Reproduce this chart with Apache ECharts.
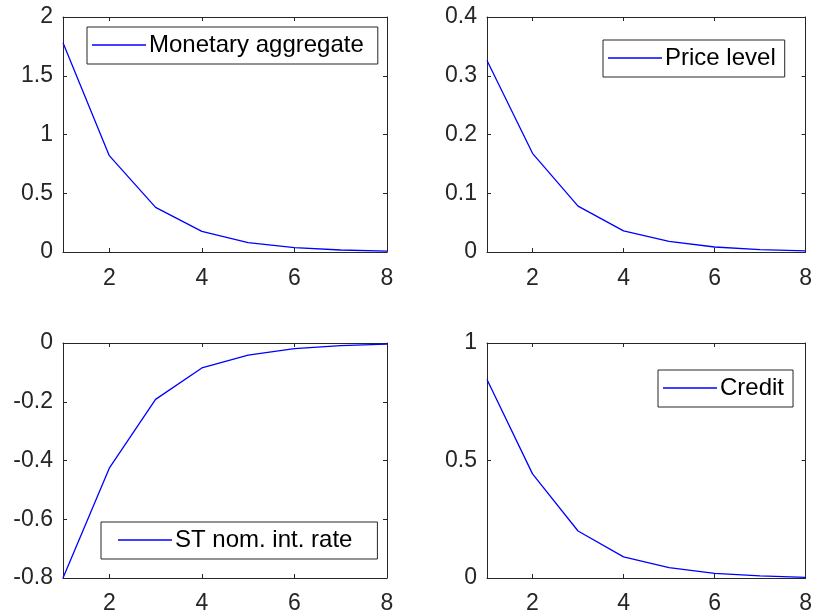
<!DOCTYPE html>
<html>
<head>
<meta charset="utf-8">
<script src="https://cdn.jsdelivr.net/npm/echarts@6/dist/echarts.min.js"></script>
<style>
  html, body { margin: 0; padding: 0; background: #ffffff; }
  #chart { width: 815px; height: 615px; }
</style>
</head>
<body>
<div id="chart"></div>
<script>
// Impulse responses over 8 periods
const periods = [1, 2, 3, 4, 5, 6, 7, 8];
const xTicks = [2, 4, 6, 8];

const monetaryAggregate = [1.78, 0.82, 0.38, 0.175, 0.08, 0.037, 0.017, 0.008];
const priceLevel = [0.326, 0.168, 0.078, 0.036, 0.018, 0.0085, 0.004, 0.002];
const stNomIntRate = [-0.8, -0.426, -0.192, -0.085, -0.041, -0.019, -0.009, -0.004];
const credit = [0.845, 0.443, 0.2, 0.09, 0.044, 0.02, 0.009, 0.003];

const seriesNames = ['Monetary aggregate', 'Price level', 'ST nom. int. rate', 'Credit'];
const seriesValues = [monetaryAggregate, priceLevel, stNomIntRate, credit];

// y-axis ranges per panel
const yMins = [0, 0, -0.8, 0];
const yMaxs = [2, 0.4, 0, 1];
const yIntervals = [0.5, 0.1, 0.2, 0.5];

// panel layout: plot rectangles, legend box corners and inner padding
const panels = [
  { left: 63, top: 17, width: 324, height: 235, xMargin: 15, legend: { left: 87, top: 27, padLeft: 5, padRight: 14 } },
  { left: 487, top: 17, width: 321, height: 235, xMargin: 15, legend: { left: 603, top: 40, padLeft: 5, padRight: 9 } },
  { left: 63, top: 343, width: 324, height: 235, xMargin: 14, legend: { left: 101, top: 522, padLeft: 17, padRight: 25 } },
  { left: 487, top: 343, width: 321, height: 235, xMargin: 14, legend: { left: 658, top: 370, padLeft: 5, padRight: 9 } }
];

const AX = '#262626';
const FONT = 'Liberation Sans, Arial, Helvetica, sans-serif';
const FS = 23;
const LEGEND_FS = 24;

const grid = [], xAxis = [], yAxis = [], series = [], legend = [];

panels.forEach((p, i) => {
  grid.push({ left: p.left, top: p.top, width: p.width, height: p.height, containLabel: false });

  const xBase = {
    type: 'value', gridIndex: i, min: 1, max: 8,
    splitLine: { show: false },
    axisLine: { show: true, onZero: false, lineStyle: { color: AX, width: 1 } },
    axisTick: { show: true, inside: true, length: 4, customValues: xTicks, lineStyle: { color: AX } }
  };
  xAxis.push(Object.assign({}, xBase, {
    position: 'bottom',
    axisLabel: { show: true, customValues: xTicks, color: AX, fontSize: FS, fontFamily: FONT, margin: p.xMargin }
  }));
  xAxis.push(Object.assign({}, xBase, {
    position: 'top',
    axisLabel: { show: false }
  }));

  const yBase = {
    type: 'value', gridIndex: i, min: yMins[i], max: yMaxs[i], interval: yIntervals[i],
    splitLine: { show: false },
    axisLine: { show: true, onZero: false, lineStyle: { color: AX, width: 1 } },
    axisTick: { show: true, inside: true, length: 4, lineStyle: { color: AX } }
  };
  yAxis.push(Object.assign({}, yBase, {
    position: 'left',
    axisLabel: { show: true, color: AX, fontSize: FS, fontFamily: FONT, margin: 10, padding: [2, 0, 0, 0] }
  }));
  yAxis.push(Object.assign({}, yBase, {
    position: 'right',
    axisLabel: { show: false }
  }));

  series.push({
    name: seriesNames[i],
    type: 'line',
    xAxisIndex: i * 2,
    yAxisIndex: i * 2,
    data: periods.map((x, k) => [x, seriesValues[i][k]]),
    symbol: 'none',
    lineStyle: { color: '#0000ff', width: 1.3 },
    itemStyle: { color: '#0000ff' },
    animation: false
  });

  legend.push({
    data: [{ name: seriesNames[i], icon: 'rect' }],
    left: p.legend.left,
    top: p.legend.top,
    orient: 'vertical',
    backgroundColor: '#ffffff',
    borderColor: AX,
    borderWidth: 1,
    borderRadius: 0,
    padding: [6, p.legend.padRight, 7, p.legend.padLeft],
    itemWidth: 54,
    itemHeight: 1.5,
    itemGap: 0,
    selectedMode: false,
    itemStyle: { color: '#0000ff', borderWidth: 0 },
    textStyle: { color: '#000000', fontSize: LEGEND_FS, fontFamily: FONT, padding: [0, 0, 0, -2] }
  });
});

const chart = echarts.init(document.getElementById('chart'), null, { renderer: 'canvas' });
chart.setOption({
  animation: false,
  backgroundColor: '#ffffff',
  grid, xAxis, yAxis, series, legend
});
</script>
</body>
</html>
